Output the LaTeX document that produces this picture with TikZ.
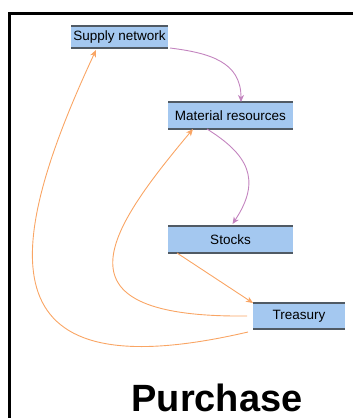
\documentclass[tikz,border=0pt]{standalone}
\usepackage{fontspec}
\setmainfont{Liberation Sans}
\usetikzlibrary{arrows.meta}
\definecolor{purchasefill}{HTML}{A4C8F0}
\definecolor{purchaseline}{HTML}{505A64}
\definecolor{purchasepink}{HTML}{C384BF}
\definecolor{purchaseorange}{HTML}{F9A564}
\newcommand\purchasetextstyle{\fontsize{13.5}{15}\selectfont}
\newcommand\purchasetitlestyle{\fontsize{38}{42}\selectfont\bfseries}
\tikzset{
  purchasebox/.style={fill=purchasefill, inner sep=0pt, outer sep=0pt, font=\purchasetextstyle},
  purchaseedge/.style={draw=purchaseline, line width=1.6pt},
  pinkarrow/.style={draw=purchasepink, line width=0.9pt, -{Stealth[length=7pt, width=6pt, inset=2pt]}},
  orangearrow/.style={draw=purchaseorange, line width=0.9pt, -{Stealth[length=7pt, width=6pt, inset=2pt]}}
}

\begin{document}
\begin{tikzpicture}[x=1pt, y=-1pt]
  \useasboundingbox (0,0) rectangle (353,418) ;
  \draw[line width=3pt] (9.5,418) |- (353,13.5) ;

  \node[purchasebox, minimum width=97pt, minimum height=22pt] (supply) at (119.5,37) {Supply network} ;
  \node[purchasebox, minimum width=125pt, minimum height=27pt] (material) at (230.5,115.5) {Material resources} ;
  \node[purchasebox, minimum width=125pt, minimum height=27pt] (stocks) at (230.5,239.5) {Stocks} ;
  \node[purchasebox, minimum width=92pt, minimum height=26pt] (treasury) at (299,316) {Treasury} ;
  \foreach \n in {supply, material, stocks, treasury} {
    \draw[purchaseedge] (\n.north west) -- (\n.north east) ;
    \draw[purchaseedge] (\n.south west) -- (\n.south east) ;
  }

  \draw[pinkarrow] ([shift={(2,0)}]supply.south east) .. controls +(40,5) and +(0,-40) .. ([xshift=10.5pt]material.north) ;
  \draw[pinkarrow] ([xshift=-23.5pt]material.south) .. controls +(40,25) and +(30,-45) .. ([shift={(2,-2)}]stocks.north) ;
  \draw[orangearrow] ([xshift=9pt]stocks.south west) -- (treasury.north west) ;
  \draw[orangearrow] ([xshift=-6pt]treasury.west) .. controls +(-197,2) and +(-88,105) .. ([xshift=25pt]material.south west) ;
  \draw[orangearrow] ([shift={(-5,3)}]treasury.south west) .. controls +(-258,60) and +(-98,210) .. ([shift={(25,2)}]supply.south west) ;

  \node[font=\purchasetitlestyle, anchor=base] (title) at (217,411) {Purchase} ;
\end{tikzpicture}
\end{document}
